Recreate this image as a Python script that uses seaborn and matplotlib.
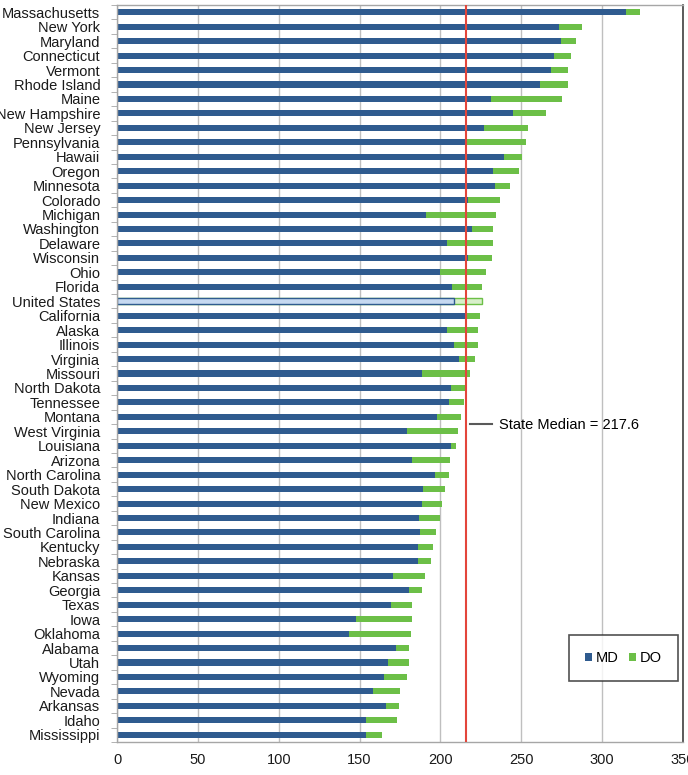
import matplotlib
matplotlib.use("Agg")
import matplotlib.pyplot as plt
from matplotlib.lines import Line2D
from matplotlib.patches import Patch
import numpy as np
import pandas as pd
import seaborn as sns

states = [
    "Massachusetts", "New York", "Maryland", "Connecticut", "Vermont", "Rhode Island",
    "Maine", "New Hampshire", "New Jersey", "Pennsylvania", "Hawaii", "Oregon",
    "Minnesota", "Colorado", "Michigan", "Washington", "Delaware", "Wisconsin", "Ohio",
    "Florida", "United States", "California", "Alaska", "Illinois", "Virginia",
    "Missouri", "North Dakota", "Tennessee", "Montana", "West Virginia", "Louisiana",
    "Arizona", "North Carolina", "South Dakota", "New Mexico", "Indiana",
    "South Carolina", "Kentucky", "Nebraska", "Kansas", "Georgia", "Texas", "Iowa",
    "Oklahoma", "Alabama", "Utah", "Wyoming", "Nevada", "Arkansas", "Idaho",
    "Mississippi",
]
md = [
    314.9, 273.2, 274.6, 270.5, 268.4, 261.4, 231.1, 244.9, 226.8, 214.9, 239.5, 232.2,
    233.5, 217.0, 191.1, 219.5, 204.3, 217.3, 200.0, 207.0, 208.6, 214.9, 203.8, 208.6,
    211.4, 188.9, 206.8, 205.4, 198.1, 179.5, 206.8, 182.4, 196.8, 189.5, 188.6, 186.5,
    187.6, 185.9, 185.9, 170.8, 180.3, 169.5, 147.6, 143.5, 172.7, 167.8, 165.1, 158.1,
    166.2, 153.8, 153.8,
]
total = [
    323.5, 287.3, 284.1, 280.8, 278.9, 278.6, 275.1, 265.4, 254.3, 252.7, 250.3, 248.4,
    243.0, 236.8, 234.1, 232.7, 232.2, 231.6, 228.1, 225.9, 225.4, 224.3, 223.5, 223.5,
    221.6, 218.4, 215.4, 214.3, 213.0, 210.8, 209.7, 206.2, 205.1, 202.7, 201.1, 199.5,
    197.0, 195.4, 194.1, 190.5, 188.4, 182.4, 182.2, 181.9, 180.5, 180.3, 179.2, 175.1,
    174.1, 173.2, 164.1,
]
median_line = 216.0
median_label = "State Median = 217.6"
x_ticks = [0, 50, 100, 150, 200, 250, 300, 350]

md_color = "#2f5b8f"
do_color = "#6cbf47"
us_md_fill = "#c6d9f1"
us_do_fill = "#d8efca"

df = pd.DataFrame({"state": states, "MD": md, "total": total})
df["DO"] = df["total"] - df["MD"]

plt.rcParams["font.family"] = ["Liberation Sans", "DejaVu Sans"]
fig = plt.figure(figsize=(6.88, 7.75), dpi=100)
ax = fig.add_axes([117 / 688, 1 - 742 / 775, 566 / 688, 737 / 775])

do_pal = {s: (us_do_fill if s == "United States" else do_color) for s in states}
md_pal = {s: (us_md_fill if s == "United States" else md_color) for s in states}

sns.barplot(data=df, x="total", y="state", hue="state", palette=do_pal, orient="h",
            width=0.42, legend=False, ax=ax, linewidth=0, saturation=1)
sns.barplot(data=df, x="MD", y="state", hue="state", palette=md_pal, orient="h",
            width=0.42, legend=False, ax=ax, linewidth=0, saturation=1)

# outline the United States bars
us_idx = states.index("United States")
for p in ax.patches:
    y_mid = p.get_y() + p.get_height() / 2
    if abs(y_mid - us_idx) < 0.3:
        fc = p.get_facecolor()
        if np.allclose(fc[:3], matplotlib.colors.to_rgb(us_md_fill), atol=0.02):
            p.set_edgecolor(md_color)
        else:
            p.set_edgecolor(do_color)
        p.set_linewidth(1.0)

ax.axvline(median_line, color="#e3463b", lw=1.5, zorder=5)

ax.set_xlim(0, 350)
ax.set_ylim(len(states) - 0.58, -0.42)
ax.set_xticks(x_ticks)
ax.set_xlabel("")
ax.set_ylabel("")
ax.set_axisbelow(True)
ax.grid(axis="x", color="#bfbfbf", lw=1)
ax.grid(axis="y", visible=False)

ax.tick_params(axis="y", which="major", length=0, labelsize=10.5, pad=12, colors="#1a1a1a")
ax.set_yticks(np.arange(len(states) + 1) - 0.5, minor=True)
ax.tick_params(axis="y", which="minor", length=4, color="#a6a6a6")
ax.tick_params(axis="x", length=0, labelsize=10.5, pad=8, colors="#1a1a1a")

for side in ["left", "bottom", "top"]:
    ax.spines[side].set_color("#a6a6a6")
    ax.spines[side].set_linewidth(1)
ax.spines["right"].set_color("#404040")
ax.spines["right"].set_linewidth(1.2)

handles = [Patch(facecolor=md_color, label="MD"), Patch(facecolor=do_color, label="DO")]
leg = ax.legend(handles=handles, loc="upper left", bbox_to_anchor=(0.7986, 0.1452), ncol=2,
                frameon=True, fancybox=False, edgecolor="#262626", fontsize=10.5,
                handlelength=0.5, handleheight=0.5, handletextpad=0.25, columnspacing=0.7,
                borderpad=1.1, borderaxespad=0)
leg.get_frame().set_linewidth(1.2)
ax.add_artist(leg)

med_handle = [Line2D([0], [0], color="#595959", lw=1.5, label=median_label)]
ax.legend(handles=med_handle, loc="center left", bbox_to_anchor=(0.60, 0.43),
          frameon=False, fontsize=10.5, handlelength=1.5, handletextpad=0.5)

fig.savefig("out.png", dpi=100)
